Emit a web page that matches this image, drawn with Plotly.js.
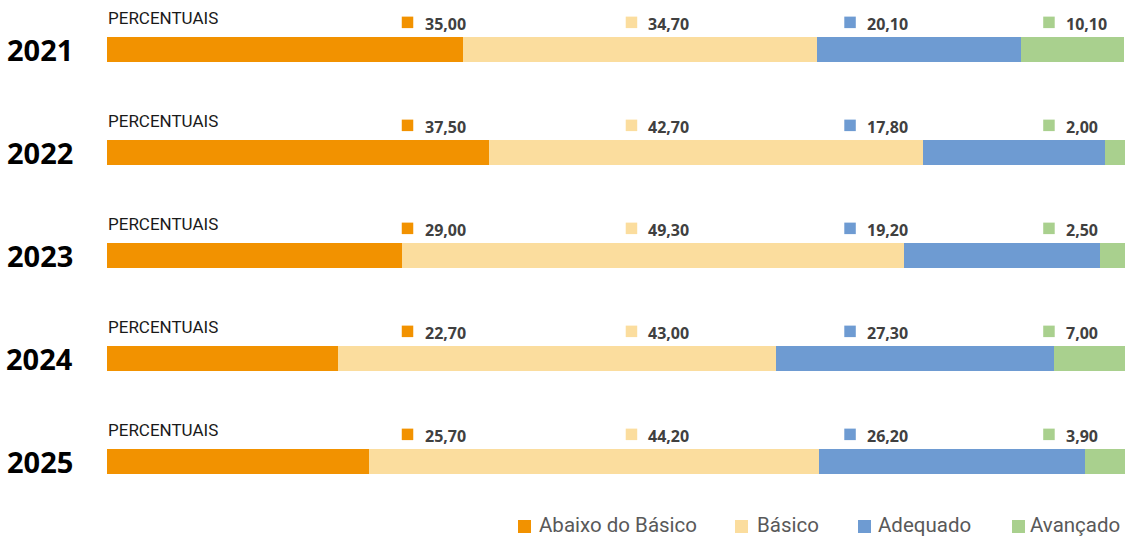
<!DOCTYPE html>
<html>
<head>
<meta charset="utf-8">
<script src="https://cdn.plot.ly/plotly-3.0.1.min.js"></script>
<style>html,body{margin:0;padding:0;background:#fff;}#chart{width:1132px;height:538px;}</style>
</head>
<body>
<div id="chart"></div>
<script>
// ---- data ----
var years = ["2021", "2022", "2023", "2024", "2025"];
var levels = ["Abaixo do Básico", "Básico", "Adequado", "Avançado"];
var abaixo   = [35.0, 37.5, 29.0, 22.7, 25.7];
var basico   = [34.7, 42.7, 49.3, 43.0, 44.2];
var adequado = [20.1, 17.8, 19.2, 27.3, 26.2];
var avancado = [10.1, 2.0, 2.5, 7.0, 3.9];
var rowTitle = "PERCENTUAIS";

// ---- styles / positions ----
var colors = ["#F29200", "#FBDD9E", "#6E9BD2", "#A9D08E"];
var series = [abaixo, basico, adequado, avancado];
var labelX = [29.52, 51.52, 72.99, 92.53];          // value-label columns (axis units)
var W = 1132, H = 538, ML = 107, MR = 7, MT = 3, MB = 20;
var PW = W - ML - MR, PH = H - MT - MB;
function pxX(p) { return (p - ML) / PW; }
function pxY(p) { return (H - MB - p) / PH; }
function fmt(v) { return v.toFixed(2).replace(".", ","); }

var yIdx = years.map(function (_, i) { return i; });
var traces = [];
series.forEach(function (vals, k) {
  traces.push({
    type: "bar", orientation: "h", name: levels[k],
    x: vals, y: yIdx, width: 0.24,
    marker: { color: colors[k], line: { width: 0 } },
    hoverinfo: "skip", showlegend: false
  });
});
series.forEach(function (vals, k) {
  traces.push({
    type: "scatter", mode: "markers",
    x: yIdx.map(function () { return labelX[k]; }),
    y: yIdx.map(function (i) { return i - 0.262; }),
    marker: { symbol: "square", size: 11.5, color: colors[k], line: { width: 0 } },
    hoverinfo: "skip", showlegend: false, cliponaxis: false
  });
});

var annotations = [];
years.forEach(function (yr, i) {
  annotations.push({
    xref: "paper", yref: "y", x: 0, y: i, xanchor: "right", yanchor: "middle",
    xshift: -32, text: yr, showarrow: false,
    font: { family: "Noto Sans", size: 29, color: "#000000", weight: 700 }
  });
  annotations.push({
    xref: "x", yref: "y", x: 0, y: i, xanchor: "left", yanchor: "middle",
    xshift: -1, yshift: 31, text: rowTitle, showarrow: false,
    font: { family: "Roboto", size: 17, color: "#1a1a1a" }
  });
  series.forEach(function (vals, k) {
    annotations.push({
      xref: "x", yref: "y", x: labelX[k], y: i, xanchor: "left", yanchor: "middle",
      xshift: 15, yshift: 25.5, text: fmt(vals[i]), showarrow: false,
      font: { family: "Noto Sans", size: 16, color: "#404040", weight: 700 }
    });
  });
});

// manual legend
var legSq = [518, 735, 858, 1012];
var legTx = [537, 755, 876, 1028];
var shapes = [];
levels.forEach(function (name, k) {
  shapes.push({
    type: "rect", xref: "paper", yref: "paper",
    x0: pxX(legSq[k]), x1: pxX(legSq[k] + 13), y0: pxY(533), y1: pxY(520),
    fillcolor: colors[k], line: { width: 0 }
  });
  annotations.push({
    xref: "paper", yref: "paper", x: pxX(legTx[k]), y: pxY(525),
    xanchor: "left", yanchor: "middle", text: name, showarrow: false,
    font: { family: "Roboto", size: 20.5, color: "#595959" }
  });
});

var layout = {
  width: W, height: H,
  margin: { l: ML, r: MR, t: MT, b: MB, pad: 0 },
  paper_bgcolor: "#ffffff", plot_bgcolor: "#ffffff",
  barmode: "stack", showlegend: false,
  xaxis: { range: [0, 100], visible: false, fixedrange: true },
  yaxis: { range: [4.55, -0.45], visible: false, fixedrange: true },
  annotations: annotations, shapes: shapes
};

Plotly.newPlot("chart", traces, layout, { staticPlot: true, displayModeBar: false });
</script>
</body>
</html>
